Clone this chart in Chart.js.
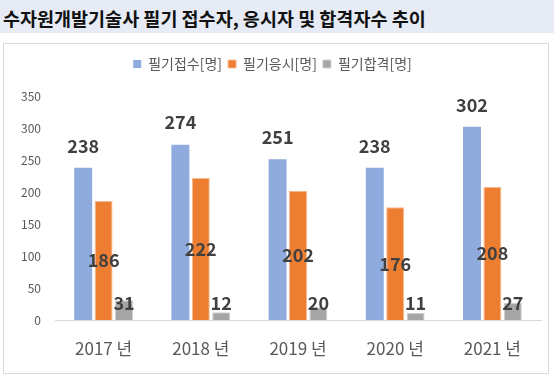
<!DOCTYPE html>
<html>
<head>
<meta charset="utf-8">
<script src="https://cdn.jsdelivr.net/npm/chart.js@4"></script>
<style>
    body { margin: 0; background: #fff; font-family: "Noto Sans CJK KR", sans-serif; }
    .title-band { height: 33px; background: #e6ebf5; }
    .title-band h1 { margin: 0; padding: 5px 0 0 3px; font-size: 18.5px; font-weight: 700; color: #111; line-height: 26px; }
    .chart-box { position: absolute; left: 3px; top: 43px; width: 544px; height: 329px; border: 1px solid #d9d9d9; }
</style>
</head>
<body>
<div class="title-band"><h1>수자원개발기술사 필기 접수자, 응시자 및 합격자수 추이</h1></div>
<div class="chart-box"><canvas id="trendChart"></canvas></div>
<script>
// --- DATA ---
const years = ['2017 년', '2018 년', '2019 년', '2020 년', '2021 년'];
const applied = [238, 274, 251, 238, 302];   // 필기접수
const tested = [186, 222, 202, 176, 208];    // 필기응시
const passed = [31, 12, 20, 11, 27];         // 필기합격
const seriesNames = ['필기접수[명]', '필기응시[명]', '필기합격[명]'];

const FONT = '"Noto Sans CJK KR", sans-serif';

// value labels: above for 접수, middle for 응시, near base for 합격
const valueLabels = {
    id: 'valueLabels',
    afterDatasetsDraw(chart) {
        const ctx = chart.ctx;
        ctx.save();
        ctx.font = 'bold 18px ' + FONT;
        ctx.fillStyle = '#404040';
        ctx.textAlign = 'center';
        ctx.textBaseline = 'middle';
        chart.data.datasets.forEach((ds, di) => {
            chart.getDatasetMeta(di).data.forEach((bar, i) => {
                let y;
                if (di === 0) y = bar.y - 22;
                else if (di === 1) y = (bar.y + bar.base) / 2;
                else y = Math.min(bar.y + 3, bar.base - 17);
                ctx.fillText(ds.data[i], bar.x, y);
            });
        });
        ctx.restore();
    }
};

// extra gap under the legend
const legendGap = {
    id: 'legendGap',
    beforeInit(chart) {
        const fit = chart.legend.fit;
        chart.legend.fit = function () {
            fit.bind(chart.legend)();
            this.height += 15;
        };
    }
};

new Chart(document.getElementById('trendChart').getContext('2d'), {
    type: 'bar',
    data: {
        labels: years,
        datasets: [
            { label: seriesNames[0], data: applied, backgroundColor: '#8faadc', borderColor: '#8faadc', borderWidth: 0 },
            { label: seriesNames[1], data: tested, backgroundColor: '#ed7d31', borderColor: '#f6b991', borderWidth: 1 },
            { label: seriesNames[2], data: passed, backgroundColor: '#a5a5a5', borderColor: '#cfcfcf', borderWidth: 1 }
        ]
    },
    options: {
        responsive: true, maintainAspectRatio: false, animation: false,
        datasets: { bar: { categoryPercentage: 0.63, barPercentage: 0.88 } },
        layout: { padding: { top: 7, right: 7, bottom: 0, left: 0 } },
        plugins: {
            legend: {
                position: 'top',
                labels: { boxWidth: 8, boxHeight: 8, padding: 6, color: '#595959', font: { family: FONT, size: 14 } }
            },
            tooltip: { enabled: false }
        },
        scales: {
            x: {
                grid: { display: false, drawTicks: false },
                border: { color: '#d9d9d9' },
                ticks: { color: '#595959', font: { family: FONT, size: 17 }, padding: 18 },
                afterFit: s => { s.height = 53; }
            },
            y: {
                min: 0, max: 350,
                grid: { display: false, drawTicks: false },
                border: { display: false },
                ticks: { stepSize: 50, color: '#595959', font: { family: FONT, size: 12 }, padding: 14 },
                afterFit: s => { s.width = 51; }
            }
        }
    },
    plugins: [valueLabels, legendGap]
});
</script>
</body>
</html>
